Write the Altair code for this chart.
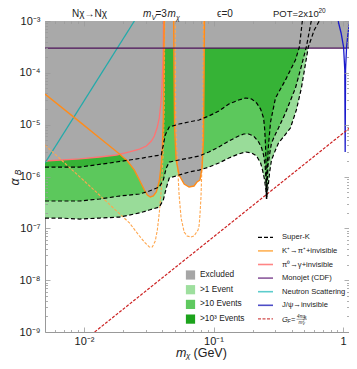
import altair as alt
import pandas as pd

# ---------------- data ----------------
# Super-K sensitivity contours (m_chi in GeV, alpha_B)
sk1_m = [0.0050, 0.00652, 0.00927, 0.01321, 0.01879, 0.02679, 0.03192, 0.03811, 0.04093, 0.04315,
         0.0455, 0.0542, 0.06471, 0.07727, 0.09204, 0.1099, 0.1312, 0.1563, 0.1770, 0.1968,
         0.2148, 0.2307, 0.2388, 0.2477, 0.2533, 0.2564, 0.2612, 0.2655, 0.2704, 0.2799,
         0.3006, 0.3170, 0.3459, 0.3918, 0.4355, 0.4764, 0.5105, 0.5383, 0.5988, 0.6540]
sk1_a = [1.58e-7, 1.58e-7, 1.51e-7, 1.58e-7, 1.65e-7, 1.98e-7, 2.26e-7, 2.58e-7, 3.52e-7, 6.00e-7,
         9.35e-7, 1.07e-6, 1.22e-6, 1.33e-6, 1.52e-6, 1.82e-6, 2.27e-6, 2.72e-6, 2.97e-6, 2.84e-6,
         2.49e-6, 1.82e-6, 1.33e-6, 8.56e-7, 5.48e-7, 3.68e-7, 5.48e-7, 7.49e-7, 1.17e-6, 2.08e-6,
         3.25e-6, 4.43e-6, 5.78e-6, 8.62e-6, 1.92e-5, 5.10e-5, 1.42e-4, 3.15e-4, 6.70e-4, 1.0e-3]

sk2_m = [0.0050, 0.00927, 0.01321, 0.01879, 0.02679, 0.03192, 0.03811, 0.04093, 0.04315, 0.0455,
         0.0542, 0.06471, 0.07727, 0.09204, 0.1099, 0.1312, 0.1563, 0.1710, 0.1866, 0.2037,
         0.2228, 0.2350, 0.2432, 0.2497, 0.2541, 0.2564, 0.2597, 0.2634, 0.2704, 0.2799,
         0.3006, 0.3170, 0.3589, 0.4285, 0.4764, 0.5200, 0.5675]
sk2_a = [3.37e-7, 3.37e-7, 3.68e-7, 4.20e-7, 4.59e-7, 5.25e-7, 6.27e-7, 8.56e-7, 1.46e-6, 1.90e-6,
         2.08e-6, 2.27e-6, 2.49e-6, 2.97e-6, 3.71e-6, 4.84e-6, 6.04e-6, 6.60e-6, 6.60e-6, 6.04e-6,
         4.63e-6, 3.55e-6, 2.60e-6, 1.67e-6, 8.56e-7, 3.68e-7, 8.56e-7, 1.67e-6, 2.60e-6, 4.43e-6,
         6.60e-6, 8.62e-6, 1.68e-5, 5.10e-5, 1.35e-4, 3.15e-4, 1.0e-3]

sk3_m = [0.0050, 0.00927, 0.01574, 0.02244, 0.02825, 0.03491, 0.03945, 0.04093, 0.04236, 0.0455,
         0.0542, 0.06471, 0.07727, 0.09204, 0.1099, 0.1312, 0.1563, 0.1770, 0.1968, 0.2148,
         0.2307, 0.2432, 0.2477, 0.2518, 0.2547, 0.2564, 0.2588, 0.2612, 0.2655, 0.2754,
         0.3006, 0.3589, 0.4285, 0.4595, 0.4843]
sk3_a = [1.52e-6, 1.52e-6, 1.82e-6, 2.08e-6, 2.27e-6, 2.49e-6, 2.60e-6, 4.05e-6, 6.31e-6, 9.01e-6,
         1.03e-5, 1.13e-5, 1.23e-5, 1.47e-5, 1.83e-5, 2.50e-5, 2.99e-5, 3.27e-5, 3.13e-5, 2.62e-5,
         2.00e-5, 1.35e-5, 8.62e-6, 4.05e-6, 1.07e-6, 3.68e-7, 1.07e-6, 2.08e-6, 4.05e-6, 1.13e-5,
         3.27e-5, 7.27e-5, 1.77e-4, 3.15e-4, 1.0e-3]

# lower edge of the excluded (grey) region
excl_m = [0.0050, 0.00927, 0.01321, 0.01782, 0.01879, 0.02165, 0.02449, 0.02679, 0.02924, 0.03083,
          0.03250, 0.03426, 0.03614, 0.03811, 0.03945, 0.04018, 0.04093, 0.04117, 0.04937, 0.04966,
          0.05009, 0.05140, 0.05420, 0.05929, 0.06471, 0.07063, 0.07447, 0.07852, 0.08147, 0.08357,
          0.08433, 0.08477, 1.15]
excl_a = [1.99e-6, 2.18e-6, 2.38e-6, 2.60e-6, 2.72e-6, 1.99e-6, 1.33e-6, 8.56e-7, 5.48e-7, 4.39e-7,
          4.02e-7, 4.20e-7, 5.02e-7, 8.19e-7, 1.67e-6, 3.25e-6, 1.23e-5, 3.0e-4, 3.0e-4, 4.66e-5,
          7.89e-6, 2.08e-6, 1.07e-6, 7.16e-7, 6.27e-7, 6.55e-7, 7.83e-7, 8.56e-7, 1.46e-6, 5.06e-6,
          4.66e-5, 3.0e-4, 3.0e-4]

# K+ -> pi+ + invisible (current bound, two branches)
kp1_m = [0.0050, 0.00927, 0.01321, 0.01879, 0.02165, 0.02449, 0.02679, 0.02924, 0.03083, 0.03250,
         0.03426, 0.03614, 0.03811, 0.03945, 0.04018, 0.04093, 0.04121, 0.04159]
kp1_a = [3.90e-5, 1.13e-5, 5.53e-6, 2.72e-6, 1.99e-6, 1.33e-6, 8.56e-7, 5.48e-7, 4.39e-7, 4.02e-7,
         4.20e-7, 5.02e-7, 8.19e-7, 1.67e-6, 3.25e-6, 1.23e-5, 7.27e-5, 1.0e-3]
kp2_m = [0.04920, 0.04966, 0.05009, 0.05140, 0.05420, 0.05929, 0.06471, 0.07063, 0.07447, 0.07852,
         0.08147, 0.08357, 0.08433, 0.08506]
kp2_a = [1.0e-3, 4.66e-5, 7.89e-6, 2.08e-6, 1.07e-6, 7.16e-7, 6.27e-7, 6.55e-7, 7.83e-7, 8.56e-7,
         1.46e-6, 5.06e-6, 4.66e-5, 1.0e-3]

# K+ -> pi+ + invisible (projected, dashed)
kpp1_m = [0.0050, 0.01107, 0.02244, 0.02679, 0.02924, 0.03192, 0.03365, 0.03549, 0.03681, 0.03811,
          0.03945, 0.04018, 0.04093, 0.04159, 0.04197]
kpp1_a = [4.05e-6, 6.55e-7, 1.27e-7, 7.11e-8, 5.45e-8, 4.36e-8, 4.36e-8, 5.69e-8, 9.28e-8, 1.98e-7,
          5.48e-7, 1.22e-6, 3.25e-6, 1.92e-5, 1.0e-3]
kpp2_m = [0.05058, 0.05097, 0.05140, 0.05236, 0.05420, 0.05618, 0.05929, 0.06252, 0.06699, 0.07063,
          0.07322, 0.07586, 0.07727, 0.07852, 0.07998, 0.08147, 0.08279, 0.08357]
kpp2_a = [1.0e-3, 1.92e-5, 6.31e-6, 2.38e-6, 4.39e-7, 1.58e-7, 8.49e-8, 7.11e-8, 6.80e-8, 7.11e-8,
          8.12e-8, 9.28e-8, 1.11e-7, 1.81e-7, 4.02e-7, 1.82e-6, 1.54e-5, 1.0e-3]

# pi0 -> gamma + invisible
pi0_m = [0.0050, 0.00927, 0.01321, 0.01782, 0.02244, 0.02679, 0.03027, 0.03311, 0.03491, 0.03681,
         0.03811, 0.03945, 0.04018, 0.04093, 0.04111]
pi0_a = [1.99e-6, 2.18e-6, 2.38e-6, 2.60e-6, 2.97e-6, 3.39e-6, 3.88e-6, 4.84e-6, 6.04e-6, 9.01e-6,
         1.35e-5, 2.99e-5, 7.27e-5, 2.76e-4, 1.0e-3]

# Monojet (CDF)
mono_m = [0.0050, 1.15]
mono_a = [3.0e-4, 3.0e-4]
# Neutron scattering
neut_m = [0.0050, 0.02449]
neut_a = [1.82e-6, 1.0e-3]
# J/psi -> invisible
jpsi_m = [0.915, 0.9645, 1.008, 1.030, 1.037, 1.044, 1.063, 1.091, 1.125]
jpsi_a = [1.0e-3, 5.87e-4, 3.15e-4, 1.13e-4, 2.97e-6, 1.13e-4, 3.15e-4, 5.87e-4, 1.0e-3]
# G_F line
gf_m = [0.01208, 1.15]
gf_a = [1.0e-9, 9.06e-6]

# legends
fill_labels = ["Excluded", ">1 Event", ">10 Events", ">10³ Events"]
line_labels = ["Super-K", "K⁺→π⁺+invisible", "π⁰→γ+invisible", "Monojet (CDF)",
               "Neutron Scattering", "J/ψ→invisible"]

# axis ticks
x_major = [0.01, 0.1, 1.0]
x_major_labels = ["10⁻²", "10⁻¹", "1"]
x_minor = [0.006, 0.007, 0.008, 0.009, 0.02, 0.03, 0.04, 0.05, 0.06, 0.07, 0.08, 0.09,
           0.2, 0.3, 0.4, 0.5, 0.6, 0.7, 0.8, 0.9]
y_major = [1e-9, 1e-8, 1e-7, 1e-6, 1e-5, 1e-4, 1e-3]
y_major_labels = ["10⁻⁹", "10⁻⁸", "10⁻⁷", "10⁻⁶", "10⁻⁵", "10⁻⁴", "10⁻³"]
y_minor = [k * 10.0 ** e for e in range(-9, -3) for k in range(2, 10)]

# ---------------- styling ----------------
FONT = "Liberation Sans"
LIGHT, MED, DARK, GREY = "#99dc99", "#5cc85c", "#36b336", "#a9a9a9"
LEG_FILL = ["#a6a6a6", "#9edf9e", "#5fc95f", "#1ca31c"]
ORANGE, ORANGE_P, PINK = "#ff8c1a", "#ffa64d", "#ff7373"
PURPLE, CYAN, BLUE, RED = "#4d1259", "#22aaaa", "#1a1acc", "#cc2222"
LEG_LINE = ["#000000", "#ffb255", "#ff8585", "#8c5a9c", "#5ccccc", "#4d4dc6"]
TICK = "#9a9a9a"

X = alt.Scale(type="log", domain=[0.005, 1.11], nice=False)
Y = alt.Scale(type="log", domain=[1e-9, 1e-3], nice=False)


def label_expr(vals, labels):
    s = ""
    for v, l in zip(vals, labels):
        s += f"abs(datum.value/{v!r} - 1) < 0.000001 ? '{l}' : "
    return s + "''"


def axis(orient, vals, size, labels=None):
    kw = dict(orient=orient, values=vals, tickSize=size, offset=-size, domain=False, grid=False,
              title=None, tickColor=TICK, tickWidth=0.8, labelOverlap=False, zindex=1)
    if labels is not None:
        kw.update(labelExpr=label_expr(*labels), labelFontSize=11, labelFont=FONT,
                  labelColor="#1a1a1a", labelPadding=3 if orient == "bottom" else 5,
                  labelFlush=False)
    else:
        kw.update(labels=False)
    return alt.Axis(**kw)


def df(m, a, extra=None):
    d = pd.DataFrame({"m": m, "a": a})
    d["i"] = range(len(d))
    if extra is not None:
        d["g"] = extra
    return d


def area(m, a, color):
    return alt.Chart(df(m, a)).mark_area(color=color, opacity=1, clip=True).encode(
        x=alt.X("m:Q", scale=X, axis=None),
        y=alt.Y("a:Q", scale=Y, axis=None),
        y2=alt.datum(1e-3),
    )


def line(d, color, width, dash=None, xaxis=None, yaxis=None, opacity=1):
    mk = dict(color=color, strokeWidth=width, clip=True, opacity=opacity)
    if dash:
        mk["strokeDash"] = dash
    enc = dict(x=alt.X("m:Q", scale=X, axis=xaxis), y=alt.Y("a:Q", scale=Y, axis=yaxis),
               order=alt.Order("i:Q"))
    if "g" in d.columns:
        enc["detail"] = alt.Detail("g:N")
    return alt.Chart(d).mark_line(**mk).encode(**enc)


def txt(s, x, y, size=8, align="left", baseline="alphabetic", style="normal", color="#222",
        angle=None):
    mk = dict(align=align, baseline=baseline, fontSize=size, fontStyle=style, color=color, font=FONT)
    if angle is not None:
        mk["angle"] = angle
    return alt.Chart(pd.DataFrame({"t": [s]})).mark_text(**mk).encode(
        text="t:N", x=alt.value(x), y=alt.value(y))


layers = []
# filled regions
layers.append(area(sk1_m, sk1_a, LIGHT))
layers.append(area(sk2_m, sk2_a, MED))
layers.append(area(sk3_m, sk3_a, DARK))
layers.append(area(excl_m, excl_a, GREY))

# constraint lines
layers.append(line(df(pi0_m, pi0_a), PINK, 1.3))
layers.append(line(df(neut_m, neut_a), CYAN, 1.3))
layers.append(line(df(kpp1_m + kpp2_m, kpp1_a + kpp2_a,
                      ["a"] * len(kpp1_m) + ["b"] * len(kpp2_m)), ORANGE_P, 1.1, [3, 1.5]))
layers.append(line(df(kp1_m + kp2_m, kp1_a + kp2_a,
                      ["a"] * len(kp1_m) + ["b"] * len(kp2_m)), ORANGE, 1.4))
# monojet line carries the top / right major tick axes
layers.append(line(df(mono_m, mono_a), PURPLE, 1.3,
                   xaxis=axis("top", x_major, 5),
                   yaxis=axis("right", y_major, 5)))
# invisible copies carry the minor tick axes
layers.append(line(df(mono_m, mono_a), PURPLE, 1, opacity=0,
                   xaxis=axis("top", x_minor, 2.5),
                   yaxis=axis("right", y_minor, 2.5)))
layers.append(line(df(mono_m, mono_a), PURPLE, 1, opacity=0,
                   xaxis=axis("bottom", x_minor, 2.5),
                   yaxis=axis("left", y_minor, 2.5)))
layers.append(line(df(jpsi_m, jpsi_a), BLUE, 1.3))
# G_F line carries the labelled bottom / left axes
layers.append(line(df(gf_m, gf_a), RED, 1.2, [3, 1.5],
                   xaxis=axis("bottom", x_major, 5, (x_major, x_major_labels)),
                   yaxis=axis("left", y_major, 5, (y_major, y_major_labels))))
sk = pd.concat([df(sk1_m, sk1_a, "1"), df(sk2_m, sk2_a, "2"), df(sk3_m, sk3_a, "3")])
layers.append(line(sk, "#000000", 1.2, [4, 2.5]))

# legend: filled regions
fy0, fdy = 254, 14.7
for k, (lab, col) in enumerate(zip(fill_labels, LEG_FILL)):
    y = fy0 + k * fdy
    layers.append(alt.Chart(pd.DataFrame({"t": [lab]})).mark_square(size=85, color=col, opacity=1)
                  .encode(x=alt.value(145.5), y=alt.value(y)))
    layers.append(txt(lab, 155, y, size=8.3, baseline="middle"))

# legend: lines
ly0, ldy = 216.3, 13.6
for k, (lab, col) in enumerate(zip(line_labels, LEG_LINE)):
    y = ly0 + k * ldy
    mk = dict(color=col, strokeWidth=1.6)
    if k == 0:
        mk["strokeDash"] = [4, 2]
        mk["strokeWidth"] = 1.3
    layers.append(alt.Chart(pd.DataFrame({"t": [lab]})).mark_rule(**mk)
                  .encode(x=alt.value(213), x2=alt.value(228), y=alt.value(y)))
    layers.append(txt(lab, 237, y, size=7.6, baseline="middle"))
# G_F entry
gy = ly0 + 6 * ldy
layers.append(alt.Chart(pd.DataFrame({"t": ["GF"]})).mark_rule(color="#d24d4d", strokeWidth=1.3,
                                                                 strokeDash=[3, 1.5])
              .encode(x=alt.value(213), x2=alt.value(228), y=alt.value(gy)))
layers.append(txt("G", 237, gy + 3, size=7.6, style="italic"))
layers.append(txt("F", 242.5, gy + 4.5, size=5, style="italic"))
layers.append(txt("=", 246, gy + 3, size=7.6))
layers.append(txt("4πα", 252, gy - 1, size=4.5, style="italic"))
layers.append(txt("B", 259, gy - 0.3, size=3.5, style="italic"))
layers.append(alt.Chart(pd.DataFrame({"t": ["bar"]})).mark_rule(color="#222", strokeWidth=0.4)
              .encode(x=alt.value(251.5), x2=alt.value(262), y=alt.value(gy + 0.4)))
layers.append(txt("m", 253.5, gy + 5, size=4.5, style="italic"))
layers.append(txt("V", 257.5, gy + 5.8, size=3.5, style="italic"))
layers.append(txt("2", 257.5, gy + 3.2, size=3.5))

# header annotations
layers.append(txt("Nχ→Nχ", 44.5, -4, size=10, align="center"))
layers.append(txt("m", 98, -4, size=10, style="italic"))
layers.append(txt("V", 106.5, -1.5, size=7, style="italic"))
layers.append(txt("=3", 110.5, -4, size=10))
layers.append(txt("m", 122.5, -4, size=10, style="italic"))
layers.append(txt("χ", 131, -1.5, size=7, style="italic"))
layers.append(txt("ϵ=0", 172, -4, size=10))
layers.append(txt("POT=2x10", 228, -4, size=9.5))
layers.append(txt("20", 273.5, -8, size=6.5))

# axis titles
layers.append(txt("m", 131, 335.5, size=12.5, style="italic"))
layers.append(txt("χ", 141, 336.5, size=8, style="italic"))
layers.append(txt("(GeV)", 148.5, 335.5, size=12.5))
layers.append(txt("α", -30.5, 161, size=12.5, style="italic", align="center", baseline="middle", angle=270))
layers.append(txt("B", -27.5, 151.5, size=8.5, style="italic", align="center", baseline="middle", angle=270))

chart = (
    alt.layer(*layers)
    .resolve_axis(x="independent", y="independent")
    .properties(width=304, height=311, autosize=alt.AutoSizeParams(type="none"),
                padding={"left": 37, "top": 13, "right": 0, "bottom": 28})
    .configure_view(stroke="#999999", strokeWidth=1)
)

chart.save("out.html", embed_options={"renderer": "svg", "actions": False})
